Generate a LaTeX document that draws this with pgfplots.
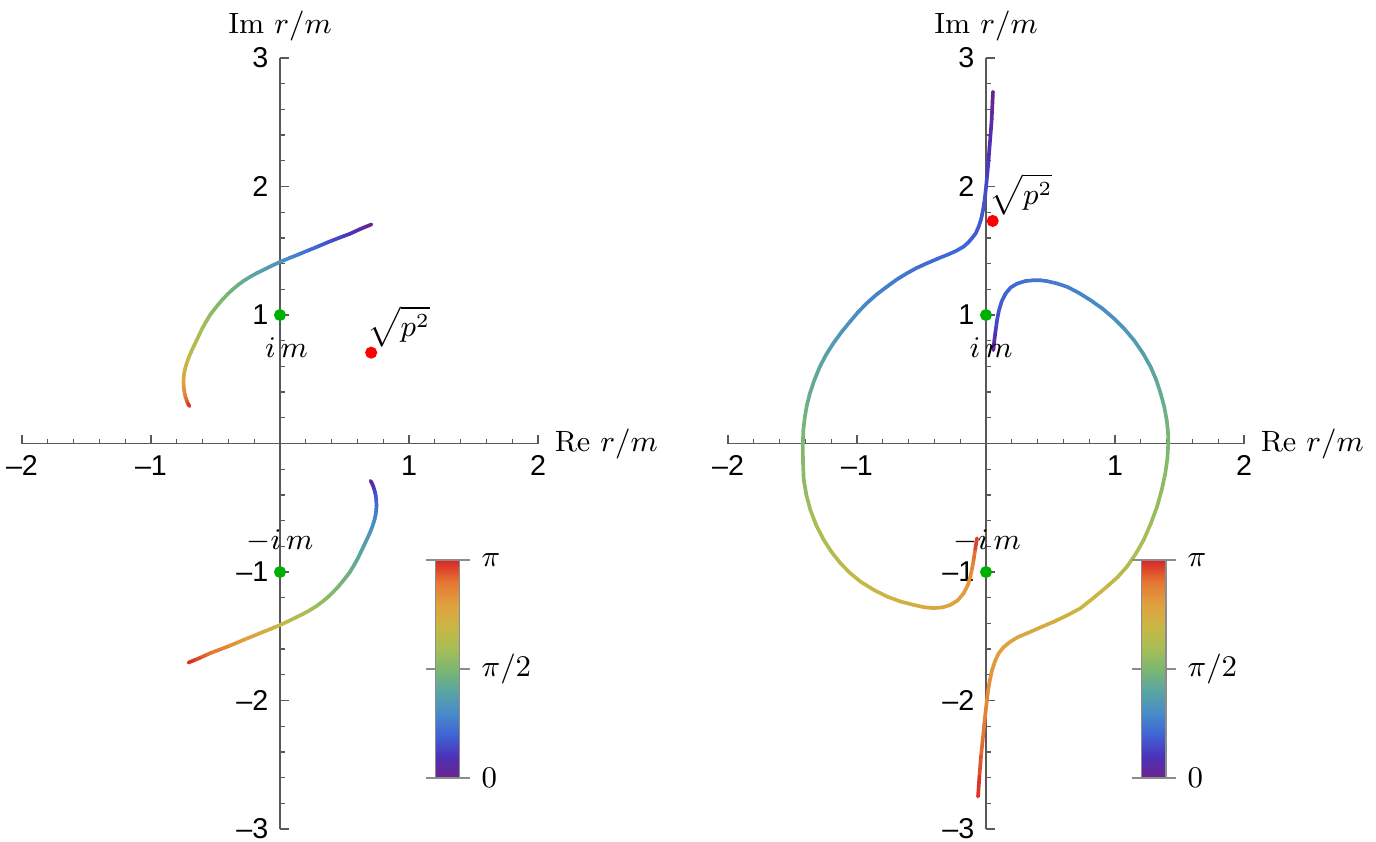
\documentclass[border=0pt]{standalone}
\usepackage{pgfplots}
\pgfplotsset{compat=1.18}
\usepackage{fontspec}
\newfontfamily\ticksf{Liberation Sans}
\definecolor{mgreen}{RGB}{0,176,0}
\definecolor{mred}{RGB}{255,0,0}
\begin{document}
\begin{tikzpicture}[x=1pt,y=1pt]
\useasboundingbox (0,0) rectangle (412.8,252.3);
\pgfplotsset{
  panel/.style={
    axis lines=middle, scale only axis, width=154.8pt, height=231.3pt,
    xmin=-2,xmax=2,ymin=-3,ymax=3, enlargelimits=false, clip=false,
    xtick={-2,-1,0,1,2}, xticklabels={–2,–1,{},1,2},
    ytick={-3,-2,-1,0,1,2,3}, yticklabels={–3,–2,–1,{},1,2,3},
    minor tick num=4, tick align=inside,
    major tick length=2.7pt, minor tick length=1.5pt,
    axis line style={-, black!65, line width=0.45pt},
    every tick/.style={black!65, line width=0.4pt},
    ticklabel style={font=\ticksf\fontsize{8.6}{10}\selectfont},
    label style={font=\fontsize{8.8}{10.5}\selectfont},
    xlabel={$\mathrm{Re}\ r/m$}, ylabel={$\mathrm{Im}\ r/m$},
    xlabel style={at={(axis description cs:1,0.5)}, anchor=west, xshift=1.5pt},
    ylabel style={at={(axis description cs:0.5,1)}, anchor=base, yshift=7.5pt},
    colormap={mrainbow}{
      rgb255(0)=(110,35,140); rgb255(1)=(75,50,185); rgb255(2)=(64,100,213);
      rgb255(3)=(72,140,200); rgb255(4)=(90,165,162); rgb255(5)=(125,183,112);
      rgb255(6)=(168,190,85); rgb255(7)=(202,182,68); rgb255(8)=(224,160,62);
      rgb255(9)=(230,118,52); rgb255(10)=(216,38,38)},
    point meta min=0, point meta max=1,
    colorbar,
    colorbar style={at={(0.802,0.066)}, anchor=south west,
      scale only axis, width=7.2pt, height=65.4pt, axis lines=box,
      ytick={0,0.5,1}, yticklabels={$0$,$\pi/2$,$\pi$},
      yticklabel pos=right, ytick align=outside, minor tick num=0,
      major tick length=3pt,
      axis line style={black!45, line width=0.4pt},
      every tick/.style={black!45, line width=0.4pt},
      ticklabel style={font=\fontsize{8.8}{10}\selectfont}},
  },
  curve/.style={mesh, point meta=explicit, line width=1.1pt, line cap=round, line join=round},
}
% ---------------- left panel ----------------
\begin{axis}[panel, at={(6.6pt,3.6pt)}, anchor=south west]
\addplot[curve] table[meta=c] {
x y c
0.710 1.705 0.00
0.665 1.687 0.03
0.620 1.668 0.06
0.581 1.650 0.08
0.542 1.632 0.10
0.470 1.605 0.125
0.400 1.578 0.15
0.342 1.554 0.175
0.284 1.529 0.20
0.212 1.500 0.23
0.140 1.470 0.26
0.070 1.442 0.29
0.000 1.413 0.32
-0.060 1.385 0.345
-0.120 1.355 0.37
-0.178 1.327 0.39
-0.232 1.297 0.41
-0.283 1.265 0.43
-0.330 1.230 0.45
-0.373 1.194 0.47
-0.413 1.155 0.49
-0.448 1.118 0.505
-0.480 1.080 0.52
-0.512 1.040 0.535
-0.542 1.000 0.55
-0.572 0.950 0.57
-0.600 0.900 0.59
-0.623 0.853 0.605
-0.645 0.806 0.62
-0.668 0.758 0.64
-0.690 0.710 0.66
-0.708 0.668 0.68
-0.723 0.626 0.70
-0.734 0.588 0.72
-0.742 0.550 0.74
-0.746 0.517 0.76
-0.748 0.484 0.78
-0.747 0.456 0.80
-0.745 0.430 0.82
-0.742 0.405 0.84
-0.737 0.380 0.86
-0.730 0.355 0.89
-0.722 0.330 0.92
-0.712 0.308 0.96
-0.702 0.290 1.00
};
\addplot[curve] table[meta=c] {
x y c
0.702 -0.290 0.00
0.712 -0.308 0.04
0.722 -0.330 0.08
0.730 -0.355 0.11
0.737 -0.380 0.14
0.742 -0.405 0.16
0.745 -0.430 0.18
0.747 -0.456 0.20
0.748 -0.484 0.22
0.746 -0.517 0.24
0.742 -0.550 0.26
0.734 -0.588 0.28
0.723 -0.626 0.30
0.708 -0.668 0.32
0.690 -0.710 0.34
0.668 -0.758 0.36
0.645 -0.806 0.38
0.623 -0.853 0.395
0.600 -0.900 0.41
0.572 -0.950 0.43
0.542 -1.000 0.45
0.512 -1.040 0.465
0.480 -1.080 0.48
0.448 -1.118 0.495
0.413 -1.155 0.51
0.373 -1.194 0.53
0.330 -1.230 0.55
0.283 -1.265 0.57
0.232 -1.297 0.59
0.178 -1.327 0.61
0.120 -1.355 0.63
0.060 -1.385 0.655
0.000 -1.413 0.68
-0.070 -1.442 0.71
-0.140 -1.470 0.74
-0.212 -1.500 0.77
-0.284 -1.529 0.80
-0.342 -1.554 0.825
-0.400 -1.578 0.85
-0.470 -1.605 0.875
-0.542 -1.632 0.90
-0.581 -1.650 0.92
-0.620 -1.668 0.94
-0.665 -1.687 0.97
-0.710 -1.705 1.00
};
\addplot[only marks, mark=*, mark size=1.6pt, color=mgreen] coordinates {(0,1) (0,-1)};
\addplot[only marks, mark=*, mark size=1.6pt, color=mred] coordinates {(0.707,0.707)};
\node[font=\fontsize{8.8}{10}\selectfont] at (axis cs:0.05,0.75) {$i\,m$};
\node[font=\fontsize{8.8}{10}\selectfont] at (axis cs:0.0,-0.755) {$-i\,m$};
\node[font=\fontsize{8.8}{10}\selectfont] at (axis cs:0.92,0.91) {$\sqrt{p^2}$};
\end{axis}
% ---------------- right panel ----------------
\begin{axis}[panel, at={(218.4pt,3.6pt)}, anchor=south west]
\addplot[curve] table[meta=c] {
x y c
0.054 2.738 0.00
0.050 2.650 0.02
0.044 2.520 0.045
0.034 2.388 0.07
0.026 2.290 0.09
0.018 2.180 0.11
0.008 2.076 0.13
0.000 1.990 0.145
-0.010 1.900 0.16
-0.023 1.817 0.17
-0.038 1.745 0.175
-0.057 1.687 0.18
-0.080 1.635 0.185
-0.109 1.597 0.19
-0.140 1.562 0.195
-0.174 1.532 0.20
-0.235 1.497 0.205
-0.303 1.467 0.21
-0.380 1.436 0.215
-0.459 1.402 0.22
-0.540 1.365 0.23
-0.614 1.324 0.24
-0.692 1.276 0.25
-0.769 1.220 0.26
-0.850 1.158 0.275
-0.925 1.091 0.29
-0.992 1.022 0.305
-1.054 0.948 0.32
-1.122 0.865 0.34
-1.184 0.779 0.36
-1.240 0.690 0.38
-1.288 0.598 0.40
-1.330 0.495 0.42
-1.365 0.390 0.44
-1.388 0.300 0.455
-1.404 0.209 0.47
-1.416 0.105 0.485
-1.420 0.000 0.50
-1.419 -0.140 0.52
-1.413 -0.283 0.54
-1.392 -0.403 0.56
-1.362 -0.516 0.58
-1.316 -0.636 0.60
-1.258 -0.750 0.62
-1.196 -0.846 0.635
-1.129 -0.931 0.65
-1.055 -1.007 0.665
-0.974 -1.074 0.68
-0.872 -1.138 0.695
-0.767 -1.191 0.71
-0.665 -1.229 0.725
-0.561 -1.256 0.74
-0.480 -1.274 0.755
-0.406 -1.281 0.77
-0.335 -1.275 0.78
-0.276 -1.256 0.79
-0.218 -1.220 0.80
-0.173 -1.165 0.81
-0.140 -1.100 0.82
-0.121 -1.035 0.835
-0.107 -0.970 0.855
-0.096 -0.905 0.88
-0.083 -0.820 0.93
-0.070 -0.737 1.00
};
\addplot[curve] table[meta=c] {
x y c
0.057 0.726 0.00
0.065 0.805 0.06
0.075 0.882 0.12
0.086 0.962 0.15
0.101 1.038 0.17
0.122 1.108 0.185
0.152 1.167 0.20
0.192 1.215 0.21
0.243 1.245 0.22
0.305 1.264 0.23
0.372 1.271 0.24
0.425 1.270 0.245
0.475 1.263 0.25
0.552 1.245 0.26
0.630 1.219 0.27
0.720 1.172 0.28
0.811 1.115 0.29
0.905 1.048 0.305
0.992 0.973 0.32
1.072 0.893 0.335
1.147 0.804 0.35
1.215 0.705 0.37
1.276 0.597 0.39
1.320 0.494 0.41
1.354 0.389 0.43
1.382 0.285 0.45
1.401 0.182 0.47
1.411 0.090 0.485
1.413 0.000 0.50
1.406 -0.118 0.515
1.390 -0.232 0.53
1.362 -0.362 0.545
1.326 -0.492 0.56
1.278 -0.622 0.58
1.222 -0.751 0.60
1.160 -0.860 0.62
1.093 -0.958 0.64
1.020 -1.040 0.66
0.938 -1.114 0.68
0.835 -1.200 0.695
0.731 -1.283 0.71
0.628 -1.338 0.725
0.525 -1.387 0.74
0.420 -1.432 0.75
0.318 -1.477 0.765
0.250 -1.505 0.775
0.189 -1.542 0.785
0.138 -1.583 0.795
0.098 -1.633 0.80
0.070 -1.693 0.81
0.047 -1.763 0.82
0.028 -1.850 0.835
0.013 -1.944 0.85
0.000 -2.060 0.865
-0.013 -2.178 0.88
-0.026 -2.310 0.90
-0.039 -2.437 0.93
-0.051 -2.590 0.96
-0.062 -2.748 1.00
};
\addplot[only marks, mark=*, mark size=1.6pt, color=mgreen] coordinates {(0,1) (0,-1)};
\addplot[only marks, mark=*, mark size=1.6pt, color=mred] coordinates {(0.052,1.732)};
\node[font=\fontsize{8.8}{10}\selectfont] at (axis cs:0.04,0.75) {$i\,m$};
\node[font=\fontsize{8.8}{10}\selectfont] at (axis cs:0.01,-0.755) {$-i\,m$};
\node[font=\fontsize{8.8}{10}\selectfont] at (axis cs:0.272,1.94) {$\sqrt{p^2}$};
\end{axis}
\end{tikzpicture}
\end{document}
